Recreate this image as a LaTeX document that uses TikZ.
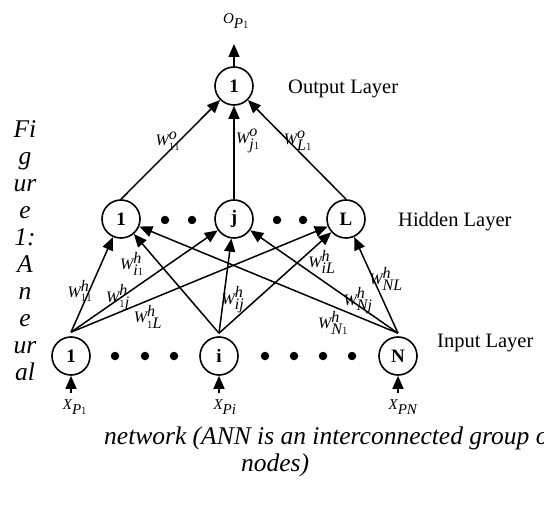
\documentclass[tikz,border=0pt]{standalone}
\usepackage{fontspec}
\setmainfont{Liberation Serif}
\usetikzlibrary{arrows.meta}
\newcommand{\ti}[1]{\textit{#1}}
\begin{document}
\begin{tikzpicture}[x=1pt,y=-1pt,
  neuron/.style={circle,draw,line width=1.6pt,minimum size=38pt,inner sep=0pt,font=\fontsize{19}{19}\selectfont\bfseries},
  conn/.style={line width=1.5pt,-{Triangle[length=13pt,width=11pt]}},
  wlab/.style={font=\fontsize{16}{16}\selectfont,inner sep=0pt},
  xlab/.style={font=\fontsize{15}{15}\selectfont,inner sep=0pt},
  layer/.style={font=\fontsize{20.5}{22}\selectfont,anchor=west,inner sep=0pt},
  captxt/.style={font=\fontsize{25.5}{27}\selectfont\itshape,inner sep=0pt},
  dotn/.style={circle,fill,inner sep=0pt,minimum size=8.5pt}]
\useasboundingbox (0,0) rectangle (544,508);
\clip (0,0) rectangle (544,508);

% output
\node[neuron] (out) at (234,86) {1};
\node[xlab] (op) at (236,21) {$\ti{O}_{\ti{P}1}$};
\coordinate (otip) at (234,44);
\draw[conn] (out.north) -- (otip);

% hidden
\node[neuron] (h1) at (121,219) {1};
\node[neuron] (hj) at (234,219) {j};
\node[neuron] (hL) at (346,219) {L};
\foreach \x/\n in {165/a,192/b,277/c,303/d} \node[dotn] (hd\n) at (\x,220) {};

% input
\node[neuron] (n1) at (71,356) {1};
\node[neuron] (ni) at (219,356) {i};
\node[neuron] (nN) at (398,356) {N};
\foreach \x/\n in {115/a,145/b,174/c,265/d,294/e,323/f,352/g} \node[dotn] (id\n) at (\x,356) {};

% input arrows
\coordinate (b1) at (71,393);
\coordinate (bi) at (219,393);
\coordinate (bN) at (398,393);
\draw[conn] (b1) -- (n1.south);
\draw[conn] (bi) -- (ni.south);
\draw[conn] (bN) -- (nN.south);
\node[xlab] (x1) at (75,407) {$\ti{X}_{\ti{P}1}$};
\node[xlab] (xi) at (225,407) {$\ti{X}_{\ti{Pi}}$};
\node[xlab] (xN) at (403,407) {$\ti{X}_{\ti{PN}}$};

% hidden -> output
\draw[conn] (h1.north) -- (out);
\draw[conn] (hj.north) -- (out.south);
\draw[conn] (hL.north) -- (out);

% input -> hidden
\coordinate (t1) at ([yshift=4pt]n1.north);
\coordinate (ti) at ([yshift=3pt]ni.north);
\coordinate (tN) at ([yshift=3pt]nN.north);
\foreach \s in {t1,ti,tN}
  \foreach \t in {h1,hj,hL}
    \draw[conn] (\s) -- (\t);

% weight labels
\node[wlab] (wo11) at (168,141) {$\ti{W}^{\ti{o}}_{11}$};
\node[wlab] (woj1) at (248,141) {$\ti{W}^{\ti{o}}_{\ti{j}1}$};
\node[wlab] (woL1) at (298,141) {$\ti{W}^{\ti{o}}_{\ti{L}1}$};
\node[wlab] (wh11) at (80,291) {$\ti{W}^{\ti{h}}_{11}$};
\node[wlab] (whi1) at (132,264) {$\ti{W}^{\ti{h}}_{\ti{i}1}$};
\node[wlab] (wh1j) at (118,298) {$\ti{W}^{\ti{h}}_{1\ti{j}}$};
\node[wlab] (wh1L) at (148,317) {$\ti{W}^{\ti{h}}_{1\ti{L}}$};
\node[wlab] (whij) at (233,300) {$\ti{W}^{\ti{h}}_{\ti{ij}}$};
\node[wlab] (whiL) at (322,262) {$\ti{W}^{\ti{h}}_{\ti{iL}}$};
\node[wlab] (whNL) at (386,279) {$\ti{W}^{\ti{h}}_{\ti{NL}}$};
\node[wlab] (whNj) at (358,301) {$\ti{W}^{\ti{h}}_{\ti{Nj}}$};
\node[wlab] (whN1) at (333,323) {$\ti{W}^{\ti{h}}_{\ti{N}1}$};

% layer labels
\node[layer] (lo) at (288,89) {Output Layer};
\node[layer] (lh) at (398,222) {Hidden Layer};
\node[layer] (li) at (437,343) {Input Layer};

% caption
\node[captxt,align=center] (cl) at (25,251) {Fi\\g\\ur\\e\\1:\\A\\n\\e\\ur\\al};
\node[captxt,anchor=west] (c2) at (104,438) {network (ANN is an interconnected group of};
\node[captxt] (c3) at (275,465) {nodes)};
\end{tikzpicture}
\end{document}
